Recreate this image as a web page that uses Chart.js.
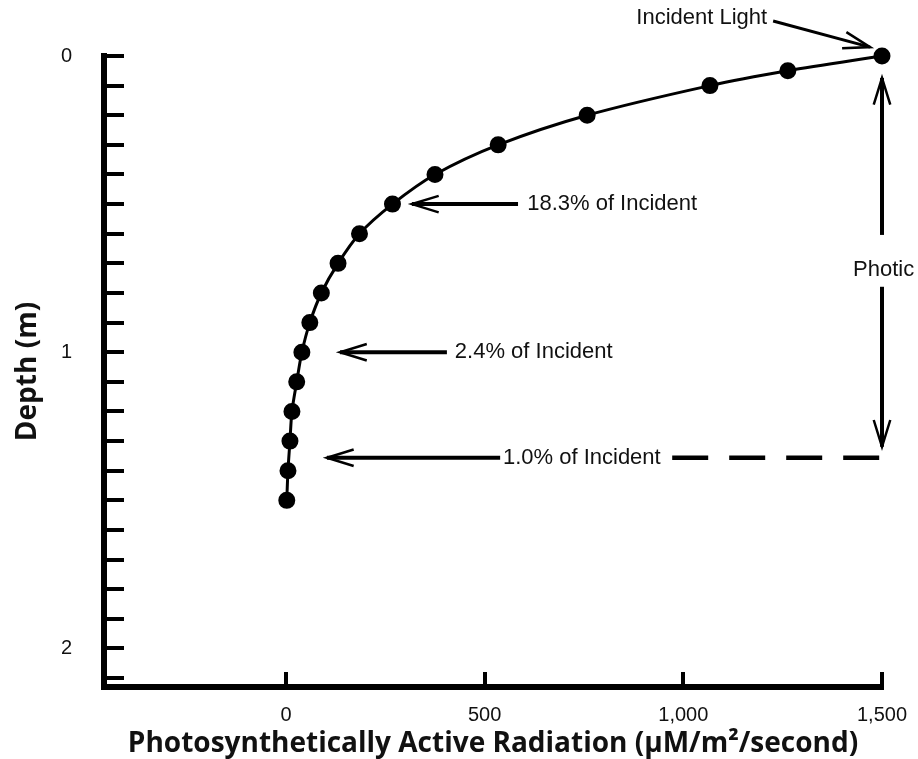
<!DOCTYPE html>
<html>
<head>
<meta charset="utf-8">
<script src="https://cdn.jsdelivr.net/npm/chart.js@4.4.0/dist/chart.umd.min.js"></script>
<style>
  html, body { margin: 0; padding: 0; background: #fff; }
  #wrap { width: 918px; height: 759px; }
</style>
</head>
<body>
<div id="wrap"><canvas id="lightChart" width="918" height="759"></canvas></div>
<script>
// light (PAR) readings vs depth
var depths = [0, 0.05, 0.1, 0.2, 0.3, 0.4, 0.5, 0.6, 0.7, 0.8, 0.9, 1.0, 1.1, 1.2, 1.3, 1.4, 1.5];
var par    = [1500, 1263, 1067, 758, 534, 375, 268, 185, 131, 89, 60, 40, 27, 15, 10, 5, 2];
var xTickValues = [0, 500, 1000, 1500];
var yTickLabels = ['0', '1', '2'];

// annotation arrows, in data units (x = PAR, y = depth)
var notes = [
  { text: '18.3% of Incident', tip: [317, 0.5], tail: [584, 0.5], at: [607, 0.5] },
  { text: '2.4% of Incident', tip: [136, 1.0], tail: [405, 1.0], at: [425, 1.0] },
  { text: '1.0% of Incident', tip: [103, 1.356], tail: [539, 1.356], at: [546, 1.356] }
];

const black = '#000';
const txtFont = '22px "Liberation Sans", Arial, sans-serif';

function arrow(ctx, x1, y1, x2, y2) {
  // shaft from (x1,y1) to tip (x2,y2)
  ctx.beginPath();
  ctx.moveTo(x1, y1);
  ctx.lineTo(x2, y2);
  ctx.stroke();
  var a = Math.atan2(y2 - y1, x2 - x1);
  var len = 28, spread = 0.30;
  ctx.save();
  ctx.lineWidth = 2.5;
  ctx.beginPath();
  ctx.moveTo(x2 - len * Math.cos(a - spread), y2 - len * Math.sin(a - spread));
  ctx.lineTo(x2, y2);
  ctx.lineTo(x2 - len * Math.cos(a + spread), y2 - len * Math.sin(a + spread));
  ctx.stroke();
  ctx.restore();
}

const notesPlugin = {
  id: 'notes',
  afterDatasetsDraw(chart) {
    const ctx = chart.ctx;
    const xs = chart.scales.x, ys = chart.scales.y;
    const px = v => xs.getPixelForValue(v);
    const py = v => ys.getPixelForValue(v);
    ctx.save();
    ctx.strokeStyle = black;
    ctx.fillStyle = '#111';
    ctx.lineWidth = 4;
    ctx.font = txtFont;
    ctx.textBaseline = 'middle';
    ctx.textAlign = 'left';

    notes.forEach(function (n) {
      arrow(ctx, px(n.tail[0]), py(n.tail[1]), px(n.tip[0]), py(n.tip[1]));
      ctx.fillText(n.text, px(n.at[0]), py(n.at[1]));
    });

    // dashed line marking the 1% level
    ctx.save();
    ctx.setLineDash([36, 21]);
    ctx.lineWidth = 4.5;
    ctx.beginPath();
    ctx.moveTo(px(972), py(1.356));
    ctx.lineTo(px(1503), py(1.356));
    ctx.stroke();
    ctx.restore();

    // photic zone double arrow
    arrow(ctx, px(1500), py(0.604), px(1500), py(0.074));
    arrow(ctx, px(1500), py(0.779), px(1500), py(1.319));
    ctx.fillText('Photic', px(1427), py(0.722));

    // incident light label
    ctx.textAlign = 'right';
    ctx.fillText('Incident Light', px(1211), py(-0.13));
    ctx.lineWidth = 3;
    arrow(ctx, px(1226), py(-0.118), px(1470), py(-0.03));
    ctx.restore();
  }
};

const config = {
  type: 'scatter',
  data: {
    datasets: [{
      label: 'PAR',
      data: par.map((v, i) => ({ x: v, y: depths[i] })),
      showLine: true,
      tension: 0.3,
      borderColor: black,
      borderWidth: 3,
      backgroundColor: black,
      pointRadius: 7,
      pointHoverRadius: 7,
      clip: false
    }]
  },
  options: {
    responsive: false,
    animation: false,
    events: [],
    layout: { padding: { top: 56, right: 36, left: 0, bottom: 0 } },
    plugins: { legend: { display: false }, tooltip: { enabled: false } },
    scales: {
      x: {
        type: 'linear',
        min: -458,
        max: 1500,
        afterFit: function (s) {
          s.height = 72;
          s.paddingLeft = 0;
          s.paddingRight = 0;
        },
        afterBuildTicks: function (s) { s.ticks = xTickValues.map(v => ({ value: v })); },
        border: { display: true, color: black, width: 6 },
        grid: { drawOnChartArea: false, color: black, lineWidth: 4, tickLength: -15 },
        ticks: {
          color: '#111',
          padding: 31,
          maxRotation: 0,
          font: { family: '"Liberation Sans", Arial, sans-serif', size: 20 },
          callback: v => v.toLocaleString('en-US')
        },
        title: {
          display: true,
          text: 'Photosynthetically Active Radiation (μM/m²/second)',
          color: '#111',
          padding: { top: 0, bottom: -2 },
          font: { family: '"Open Sans", sans-serif', size: 28, weight: 'bold' }
        }
      },
      y: {
        type: 'linear',
        reverse: true,
        min: 0,
        max: 2.13,
        afterFit: function (s) {
          s.width = 104;
          s.paddingTop = 0;
          s.paddingBottom = 0;
        },
        ticks: {
          stepSize: 0.1,
          includeBounds: false,
          color: '#111',
          padding: 52,
          font: { family: '"Liberation Sans", Arial, sans-serif', size: 20 },
          callback: function (v) {
            var r = Math.round(v * 10);
            return r % 10 === 0 ? yTickLabels[r / 10] : '';
          }
        },
        border: { display: true, color: black, width: 6 },
        grid: { drawOnChartArea: false, color: black, lineWidth: 4, tickLength: -20 },
        title: {
          display: true,
          text: 'Depth (m)',
          color: '#111',
          padding: { top: 11, bottom: 0 },
          font: { family: '"Open Sans", sans-serif', size: 28, weight: 'bold' }
        }
      }
    }
  },
  plugins: [notesPlugin]
};

const myChart = new Chart(document.getElementById('lightChart'), config);
</script>
</body>
</html>
